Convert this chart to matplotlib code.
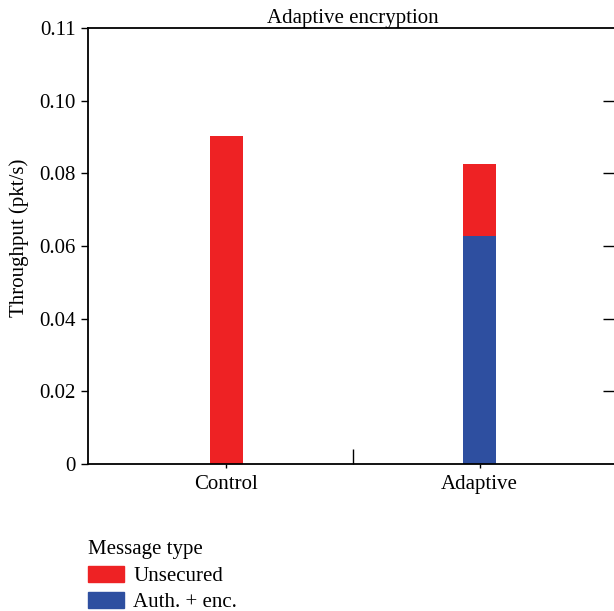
import matplotlib
matplotlib.use("Agg")
from matplotlib import pyplot as plt
from matplotlib.patches import Patch
import numpy as np

categories = ["Control", "Adaptive"]
auth_enc = [0.0, 0.0628]
unsecured = [0.0903, 0.0198]
ytick_vals = [0, 0.02, 0.04, 0.06, 0.08, 0.10, 0.12]
ytick_labels = ["0", "0.02", "0.04", "0.06", "0.08", "0.10", "0.11"]

red = "#ee2224"
blue = "#2e4fa0"
fs = 15

plt.rcParams["font.family"] = ["Liberation Serif", "DejaVu Serif"]

fig = plt.figure(figsize=(6.14, 6.11), dpi=100)
ax = fig.add_axes([88/614, 1-464/611, 530/614, 436/611])

x = np.arange(len(categories))
ax.bar(x, auth_enc, width=0.13, color=blue, linewidth=0)
ax.bar(x, unsecured, width=0.13, bottom=auth_enc, color=red, linewidth=0)

ax.set_xlim(-0.547, 1.547)
ax.set_ylim(0, 0.12)
ax.set_yticks(ytick_vals)
ax.set_yticklabels(ytick_labels, fontsize=fs)
ax.set_xticks(x)
ax.set_xticklabels(categories, fontsize=fs)
ax.set_xticks([0.5], minor=True)
ax.tick_params(axis="x", which="major", direction="out", length=3, width=1, pad=5)
ax.tick_params(axis="x", which="minor", direction="in", length=11, width=1)
ax.tick_params(axis="y", direction="out", length=5, width=1, pad=4)

# right side ticks point inward
ax2 = ax.twinx()
ax2.set_ylim(ax.get_ylim())
ax2.set_yticks(ytick_vals[1:-1])
ax2.set_yticklabels([])
ax2.tick_params(axis="y", direction="in", length=11, width=1)
for s in ax2.spines.values():
    s.set_visible(False)

for s in ["left", "bottom", "top"]:
    ax.spines[s].set_linewidth(1.3)
ax.spines["right"].set_visible(False)

ax.set_title("Adaptive encryption", fontsize=fs, pad=2)
ax.set_ylabel("Throughput (pkt/s)", fontsize=fs)
ax.yaxis.set_label_coords(-0.112, 0.518)

handles = [Patch(color=red, label="Unsecured"), Patch(color=blue, label="Auth. + enc.")]
leg = fig.legend(handles=handles, title="Message type", loc="upper left",
                 bbox_to_anchor=(80/614, 1-532/611), frameon=False, fontsize=fs,
                 title_fontsize=fs, handlelength=1.7, handleheight=0.8,
                 handletextpad=0.45, labelspacing=0.3, borderaxespad=0)
leg._legend_box.align = "left"

fig.savefig("out.png", dpi=100)
